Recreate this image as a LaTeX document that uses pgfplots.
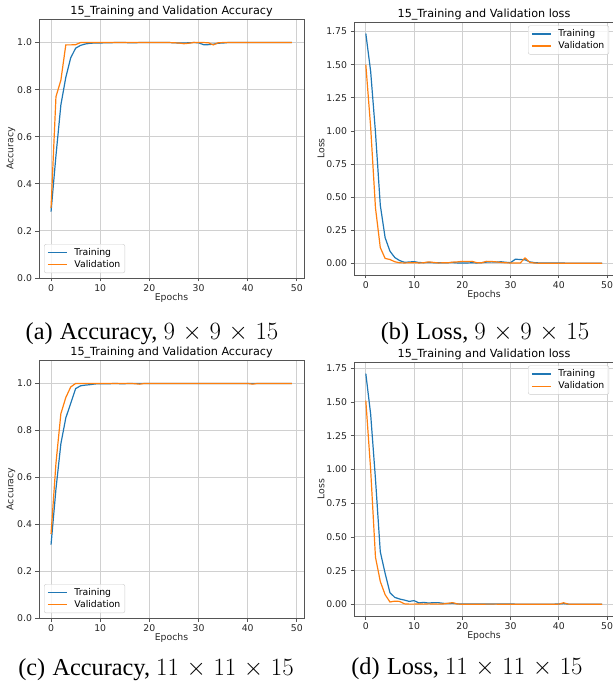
\documentclass[border=0pt]{standalone}
\usepackage{fontspec}
\setmainfont{DejaVu Sans}
\newfontfamily\capfont{Liberation Serif}
\usepackage{pgfplots}
\usepackage{pgfplotstable}
\pgfplotsset{compat=1.18}

\definecolor{mplblue}{RGB}{31,119,180}
\definecolor{mplorange}{RGB}{255,127,14}
\definecolor{gridgray}{RGB}{208,208,208}
\definecolor{spinegray}{RGB}{85,85,85}

% 9x9x15: epoch, train acc, val acc, train loss, val loss
\pgfplotstableread{
ep  tra    vaa    trl    val
0   0.282  0.298  1.735  1.500
1   0.520  0.770  1.450  1.030
2   0.735  0.840  0.990  0.420
3   0.852  0.990  0.440  0.120
4   0.935  0.990  0.195  0.038
5   0.976  0.991  0.093  0.030
6   0.988  1.000  0.045  0.013
7   0.994  1.000  0.022  0.005
8   0.997  1.000  0.009  0.004
9   0.998  1.000  0.011  0.005
10  0.998  1.000  0.014  0.006
11  0.999  1.000  0.007  0.004
12  0.999  1.000  0.006  0.005
13  1.000  1.000  0.008  0.012
14  1.000  1.000  0.006  0.008
15  1.000  1.000  0.006  0.004
16  0.999  1.000  0.005  0.005
17  0.999  1.000  0.006  0.005
18  1.000  1.000  0.007  0.010
19  1.000  1.000  0.004  0.012
20  1.000  1.000  0.004  0.016
21  1.000  1.000  0.004  0.015
22  1.000  1.000  0.005  0.016
23  1.000  1.000  0.004  0.006
24  1.000  1.000  0.006  0.005
25  0.999  0.999  0.010  0.016
26  0.998  0.998  0.012  0.015
27  0.998  0.995  0.010  0.012
28  0.999  0.997  0.013  0.008
29  1.000  1.000  0.009  0.005
30  0.999  1.000  0.006  0.004
31  0.991  1.000  0.032  0.003
32  0.991  0.999  0.030  0.003
33  0.993  0.990  0.028  0.042
34  0.997  0.999  0.012  0.008
35  0.998  1.000  0.006  0.003
36  1.000  1.000  0.004  0.002
37  1.000  1.000  0.004  0.002
38  1.000  1.000  0.003  0.002
39  1.000  1.000  0.003  0.002
40  1.000  1.000  0.003  0.001
41  1.000  1.000  0.003  0.001
42  1.000  1.000  0.002  0.001
43  1.000  1.000  0.002  0.001
44  1.000  1.000  0.002  0.001
45  1.000  1.000  0.002  0.001
46  1.000  1.000  0.002  0.001
47  1.000  1.000  0.002  0.001
48  1.000  1.000  0.002  0.001
49  1.000  1.000  0.002  0.001
}\nine

% 11x11x15
\pgfplotstableread{
ep  tra    vaa    trl    val
0   0.313  0.358  1.710  1.510
1   0.550  0.660  1.410  1.000
2   0.743  0.871  0.930  0.350
3   0.853  0.940  0.390  0.170
4   0.915  0.985  0.230  0.072
5   0.978  1.000  0.087  0.018
6   0.990  1.000  0.052  0.024
7   0.993  1.000  0.040  0.022
8   0.995  1.000  0.032  0.004
9   0.998  1.000  0.022  0.002
10  0.999  1.000  0.028  0.002
11  0.999  1.000  0.011  0.003
12  0.999  1.000  0.015  0.002
13  1.000  1.000  0.010  0.004
14  0.999  1.000  0.013  0.003
15  0.999  1.000  0.013  0.002
16  1.000  1.000  0.008  0.003
17  1.000  0.999  0.006  0.008
18  1.000  0.997  0.008  0.013
19  1.000  1.000  0.004  0.003
20  1.000  1.000  0.003  0.001
21  1.000  1.000  0.003  0.001
22  1.000  1.000  0.003  0.001
23  1.000  1.000  0.003  0.001
24  1.000  1.000  0.003  0.001
25  1.000  1.000  0.003  0.002
26  1.000  1.000  0.003  0.002
27  1.000  1.000  0.004  0.002
28  1.000  1.000  0.004  0.001
29  1.000  1.000  0.003  0.001
30  1.000  1.000  0.003  0.001
31  1.000  1.000  0.002  0.001
32  1.000  1.000  0.002  0.001
33  1.000  1.000  0.002  0.001
34  1.000  1.000  0.002  0.001
35  1.000  1.000  0.002  0.001
36  1.000  1.000  0.002  0.001
37  1.000  1.000  0.002  0.001
38  1.000  1.000  0.002  0.001
39  1.000  1.000  0.002  0.001
40  1.000  1.000  0.003  0.002
41  1.000  0.997  0.006  0.012
42  1.000  1.000  0.002  0.002
43  1.000  1.000  0.002  0.001
44  1.000  1.000  0.002  0.001
45  1.000  1.000  0.002  0.001
46  1.000  1.000  0.002  0.001
47  1.000  1.000  0.002  0.001
48  1.000  1.000  0.002  0.001
49  1.000  1.000  0.002  0.001
}\eleven

\pgfplotsset{
  mpl/.style={
    scale only axis,
    anchor=south west,
    xmin=-2.45, xmax=51.45,
    xtick={0,10,20,30,40,50},
    grid=major,
    major grid style={gridgray, line width=0.9pt},
    axis line style={spinegray, line width=0.9pt},
    tick align=outside,
    tick pos=left,
    major tick length=3.5pt,
    tick style={spinegray, line width=0.8pt},
    every tick label/.append style={font=\fontsize{9.3}{11}\selectfont, text=black!85},
    /pgf/number format/assume math mode=true,
    label style={font=\fontsize{9.3}{11}\selectfont, text=black!85},
    every axis title shift=0pt,
    title style={font=\fontsize{11.2}{13}\selectfont, anchor=base, at={(axis description cs:0.5,1.016)}},
    xlabel={Epochs},
    xlabel style={at={(axis description cs:0.5,-0.088)}, anchor=base},
    legend cell align=left,
    legend style={font=\fontsize{9.3}{11}\selectfont, draw=black!20, rounded corners=2pt,
      fill=white, fill opacity=0.8, text opacity=1, draw opacity=1, inner xsep=3pt, inner ysep=2.5pt,
      row sep=0.5pt, column sep=5.5pt, nodes={inner sep=1.5pt}},
    legend image code/.code={\draw[#1, line width=1.2pt, draw opacity=1] (0pt,0pt) -- (19pt,0pt);},
    every axis plot/.append style={line width=1.2pt, no markers},
  },
  accax/.style={
    ymin=0, ymax=1.1,
    ytick={0,0.2,0.4,0.6,0.8,1.0},
    yticklabel style={/pgf/number format/.cd, fixed, fixed zerofill, precision=1},
    ylabel={Accuracy},
    ylabel style={at={(axis description cs:-0.106,0.5)}, anchor=center},
    legend style={at={(axis description cs:0.019,0.019)}, anchor=south west},
  },
  lossax/.style={
    ytick={0,0.25,0.5,0.75,1.0,1.25,1.5,1.75},
    yticklabel style={/pgf/number format/.cd, fixed, fixed zerofill, precision=2},
    ylabel={Loss},
    ylabel style={at={(axis description cs:-0.127,0.5)}, anchor=center},
    legend style={at={(axis description cs:0.981,0.986)}, anchor=north east},
  },
}

\begin{document}
\begin{tikzpicture}
% (a)
\begin{axis}[mpl, accax, at={(39pt,405pt)}, width=265pt, height=259pt,
  title={15\_Training and Validation Accuracy}]
\addplot[mplblue] table[x=ep, y=tra] {\nine};
\addplot[mplorange] table[x=ep, y=vaa] {\nine};
\legend{Training, Validation}
\end{axis}
% (b)
\begin{axis}[mpl, lossax, at={(354pt,408pt)}, width=260pt, height=253pt,
  ymin=-0.087, ymax=1.822,
  title={15\_Training and Validation loss}]
\addplot[mplblue] table[x=ep, y=trl] {\nine};
\addplot[mplorange] table[x=ep, y=val] {\nine};
\legend{Training, Validation}
\end{axis}
% (c)
\begin{axis}[mpl, accax, at={(39pt,65pt)}, width=265pt, height=258pt,
  title={15\_Training and Validation Accuracy}]
\addplot[mplblue] table[x=ep, y=tra] {\eleven};
\addplot[mplorange] table[x=ep, y=vaa] {\eleven};
\legend{Training, Validation}
\end{axis}
% (d)
\begin{axis}[mpl, lossax, at={(354pt,67pt)}, width=260pt, height=254pt,
  ymin=-0.086, ymax=1.796,
  title={15\_Training and Validation loss}]
\addplot[mplblue] table[x=ep, y=trl] {\eleven};
\addplot[mplorange] table[x=ep, y=val] {\eleven};
\legend{Training, Validation}
\end{axis}

% sub-captions
\begin{scope}[every node/.style={font=\fontsize{24.3}{29}\capfont, inner sep=0pt}]
\node at (152pt,349pt) {(a)\hspace{0.3em}Accuracy, $9\mkern1.5mu\times\mkern1.5mu9\mkern1.5mu\times\mkern1.5mu15$};
\node at (485pt,349pt) {(b)\hspace{0.3em}Loss, $9\mkern1.5mu\times\mkern1.5mu9\mkern1.5mu\times\mkern1.5mu15$};
\node at (156pt,13pt) {(c)\hspace{0.3em}Accuracy, $11\mkern1.5mu\times\mkern1.5mu11\mkern1.5mu\times\mkern1.5mu15$};
\node at (467pt,14pt) {(d)\hspace{0.3em}Loss, $11\mkern1.5mu\times\mkern1.5mu11\mkern1.5mu\times\mkern1.5mu15$};
\end{scope}

\pgfresetboundingbox
\path (0pt,0pt) rectangle (613pt,683pt);
\end{tikzpicture}
\end{document}
